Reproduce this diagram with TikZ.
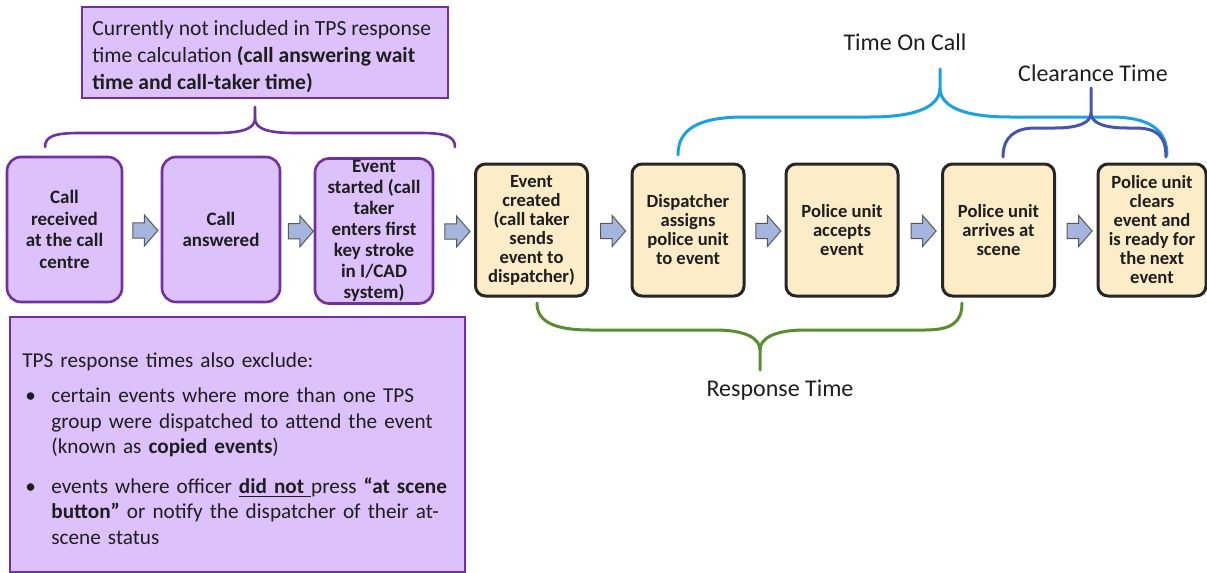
\documentclass[tikz,border=0pt]{standalone}
\usepackage{fontspec}
\setmainfont{Carlito}
\usetikzlibrary{calc}
\usetikzlibrary{shapes.arrows}

\definecolor{tpsink}{RGB}{30,30,30}
\definecolor{tpspurple}{RGB}{112,48,160}
\definecolor{tpslilac}{RGB}{221,193,250}
\definecolor{tpscream}{RGB}{252,236,200}
\definecolor{tpsarrow}{RGB}{166,181,222}
\definecolor{oncallblue}{RGB}{27,161,226}
\definecolor{clearblue}{RGB}{70,86,172}
\definecolor{respgreen}{RGB}{90,140,50}

\tikzset{
  purplebox/.style={draw=tpspurple, line width=1.3pt, fill=tpslilac, rounded corners=7pt,
    minimum height=72.5pt, inner sep=0pt, align=center, text=tpsink,
    font=\fontsize{9.5}{10.8}\selectfont\bfseries},
  yellowbox/.style={draw=black!85, line width=1.5pt, fill=tpscream, rounded corners=5pt,
    minimum width=56pt, minimum height=66pt, inner sep=0pt, align=center, text=tpsink,
    font=\fontsize{9.3}{9.5}\selectfont\bfseries},
  notebox/.style={draw=tpspurple, line width=1.4pt, fill=tpslilac},
  notetext/.style={align=left, text=tpsink, inner sep=0pt, anchor=west,
    font=\fontsize{10.6}{12.75}\selectfont},
  nextarrow/.style={single arrow, draw=gray!70!black, line width=0.5pt, fill=tpsarrow,
    minimum height=12.5pt, inner xsep=0pt, inner ysep=3.6pt, single arrow head extend=3.9pt,
    single arrow tip angle=98},
  bracelabel/.style={text=tpsink, font=\fontsize{12}{14}\selectfont},
  bracelines/.style={line width=1.5pt, line cap=round}
}

\begin{document}
\begin{tikzpicture}[x=0.5pt,y=-0.5pt]
\useasboundingbox (0,0) rectangle (1207,573);

% call handling steps (not counted)
\node[purplebox, minimum width=57.5pt] (b1) at (64.5,229.5) {Call\\received\\at the call\\centre};
\node[purplebox, minimum width=59pt] (b2) at (221,229.5) {Call\\answered};
\node[purplebox, minimum width=59pt, font=\fontsize{9.5}{10.5}\selectfont\bfseries] (b3) at (374,231)
  {Event\\started (call\\taker\\enters first\\key stroke\\in I/CAD\\system)};

% dispatch steps
\node[yellowbox] (b4) at (531.5,230) {Event\\created\\(call taker\\sends\\event to\\dispatcher)};
\node[yellowbox] (b5) at (688,230) {Dispatcher\\assigns\\police unit\\to event};
\node[yellowbox] (b6) at (842,230) {Police unit\\accepts\\event};
\node[yellowbox] (b7) at (998.5,230) {Police unit\\arrives at\\scene};
\node[yellowbox, minimum width=54pt] (b8) at (1152,230) {Police unit\\clears\\event and\\is ready for\\the next\\event};

\foreach \i/\j in {1/2,2/3,3/4,4/5,5/6,6/7,7/8} {
  \node[nextarrow] (arr\i) at ($(b\i.east)!.5!(b\j.west)+(0,1)$) {};
}

% notes
\node[notebox, minimum width=183pt, minimum height=45.5pt] (topnote) at (265,52.5) {};
\node[notetext, font=\fontsize{10.8}{13.5}\selectfont] (topnotetext) at (92,56.5)
  {Currently not included in TPS response\\time calculation \textbf{(call answering wait}\\\textbf{time and call-taker time)}};
\node[notebox, minimum width=227.5pt, minimum height=127.5pt] (exclnote) at (237.5,444.5) {};
\node[notetext, text width=217pt] (exclnotetext) at (22,448.5)
  {TPS response times also exclude:\\[4.75pt]
   \makebox[14.5pt][l]{\hspace{1.5pt}\textbullet}certain events where more than one TPS\\
   \hspace*{14.5pt}group were dispatched to attend the event\\
   \hspace*{14.5pt}(known as \textbf{copied events})\\[7pt]
   \makebox[14.5pt][l]{\hspace{1.5pt}\textbullet}events where officer \textbf{\underline{did not }}press \textbf{“at scene}\\
   \hspace*{14.5pt}\textbf{button”} or notify the dispatcher of their at-\\
   \hspace*{14.5pt}scene status};

% braces
\draw[bracelines, tpspurple, line width=1.3pt] (45,147) .. controls (45,136) and (55,133) .. (80,133) -- (215,133)
  .. controls (245,133) and (255,128) .. (255,118) -- (255,107);
\draw[bracelines, tpspurple, line width=1.3pt] (255,118) .. controls (255,128) and (265,133) .. (295,133) -- (420,133)
  .. controls (445,133) and (455,136) .. (455,147);

\draw[bracelines, oncallblue] (678,155) .. controls (678,128) and (700,117) .. (745,117) -- (870,117)
  .. controls (920,117) and (940,105) .. (940,88) -- (940,69);
\draw[bracelines, oncallblue] (940,88) .. controls (940,105) and (960,117) .. (1010,117) -- (1110,117)
  .. controls (1150,117) and (1167,130) .. (1167,155);

\draw[bracelines, clearblue] (1003,157) .. controls (1003,137) and (1015,128) .. (1035,128) -- (1055,128)
  .. controls (1080,128) and (1091,122) .. (1091,113) -- (1091,88);
\draw[bracelines, clearblue] (1091,113) .. controls (1091,122) and (1102,128) .. (1127,128) -- (1135,128)
  .. controls (1158,128) and (1166,137) .. (1166,157);

\draw[bracelines, respgreen] (537,303) .. controls (537,322) and (555,330) .. (590,330) -- (715,330)
  .. controls (745,330) and (760,338) .. (760,350) -- (760,370);
\draw[bracelines, respgreen] (760,350) .. controls (760,338) and (775,330) .. (805,330) -- (925,330)
  .. controls (952,330) and (962,322) .. (962,303);

\node[bracelabel] (oncall) at (905,42) {Time On Call};
\node[bracelabel] (clearance) at (1093,73) {Clearance Time};
\node[bracelabel] (response) at (780,390) {Response Time};
\end{tikzpicture}
\end{document}
